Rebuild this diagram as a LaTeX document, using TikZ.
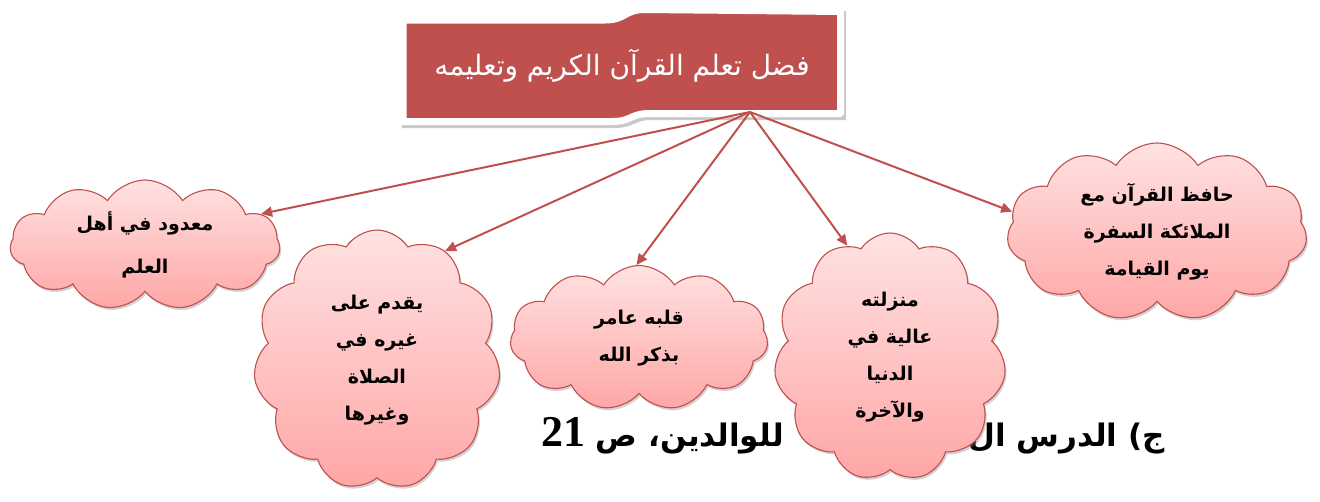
\documentclass[tikz,border=0pt]{standalone}
\usepackage{fontspec}
\usepackage{tikz}
\usetikzlibrary{shapes.symbols,shadows,arrows.meta}
\TeXXeTstate=1
\newfontfamily\arabicfont[Script=Arabic]{DejaVu Sans}
\newfontfamily\numfont{Liberation Serif}
\newcommand{\arline}[1]{\beginR #1\endR}

\begin{document}
\begin{tikzpicture}[x=1pt,y=-1pt,
    bubble/.style={cloud, cloud puffs=11, cloud puff arc=115, cloud ignores aspect,
      draw=myred, line width=1.1pt, top color=mypinktop, bottom color=mypinkbot,
      drop shadow={shadow xshift=1.5pt, shadow yshift=-2.5pt, opacity=.35},
      inner sep=0pt, align=center,
      font=\arabicfont\bfseries\fontsize{19}{37}\selectfont},
    lesson/.style={inner sep=0pt, font=\arabicfont\bfseries\fontsize{31}{36}\selectfont},
    link/.style={myred, line width=2pt, -{Triangle[length=11pt,width=10pt]}}]
  % colours
  \definecolor{myred}{RGB}{192,80,77}
  \definecolor{mypinktop}{RGB}{255,226,226}
  \definecolor{mypinkbot}{RGB}{255,166,166}
  \path[use as bounding box, fill=white] (0,0) rectangle (1320,501);

  % line of text behind the clouds
  \node[lesson, anchor=base east] (lessonA) at (1165,446) {\arline{ج) الدرس ال}};
  \node[lesson, anchor=base west] (lessonB) at (541,446)
    {\arline{للوالدين، ص \beginL{\numfont\fontsize{44}{44}\selectfont 21}\endL}};

  % banner
  \path[fill=myred, draw=white, line width=7pt, line join=round,
    drop shadow={shadow xshift=2pt, shadow yshift=-3pt, opacity=.35, draw=black!60, line width=7pt}]
    (403,20) -- (605,20) .. controls (626,20) and (624,9.5) .. (645,9.5) -- (840.5,11.5)
    -- (840.5,113.5) -- (650,113.5) .. controls (630,113.5) and (632,121.5) .. (612,121.5)
    -- (403,121.5) -- cycle;
  \node[text=white, font=\arabicfont\fontsize{28}{30}\selectfont] (title) at (622,66)
    {\arline{فضل تعلم القرآن الكريم وتعليمه}};
  \coordinate (hub) at (750,112);

  % clouds
  \node[bubble, minimum width=270pt, minimum height=130pt] (c1) at (145,245)
    {\arline{معدود في أهل}\\[6pt]\arline{العلم}};
  \node[bubble, minimum width=247pt, minimum height=260pt] (c2) at (377,360)
    {\arline{يقدم على}\\\arline{غيره في}\\\arline{الصلاة}\\\arline{وغيرها}};
  \node[bubble, minimum width=258pt, minimum height=145pt] (c3) at (639,338)
    {\arline{قلبه عامر}\\\arline{بذكر الله}};
  \node[bubble, minimum width=232pt, minimum height=248pt] (c4) at (890,357)
    {\arline{منزلته}\\\arline{عالية في}\\\arline{الدنيا}\\\arline{والآخرة}};
  \node[bubble, minimum width=300pt, minimum height=178pt] (c5) at (1157,232)
    {\arline{حافظ القرآن مع}\\\arline{الملائكة السفرة}\\\arline{يوم القيامة}};

  % arrows
  \foreach \c/\a in {c1/15,c2/58,c3/92,c4/111,c5/172}
    \draw[link] (hub) -- (\c.\a);
\end{tikzpicture}
\end{document}
